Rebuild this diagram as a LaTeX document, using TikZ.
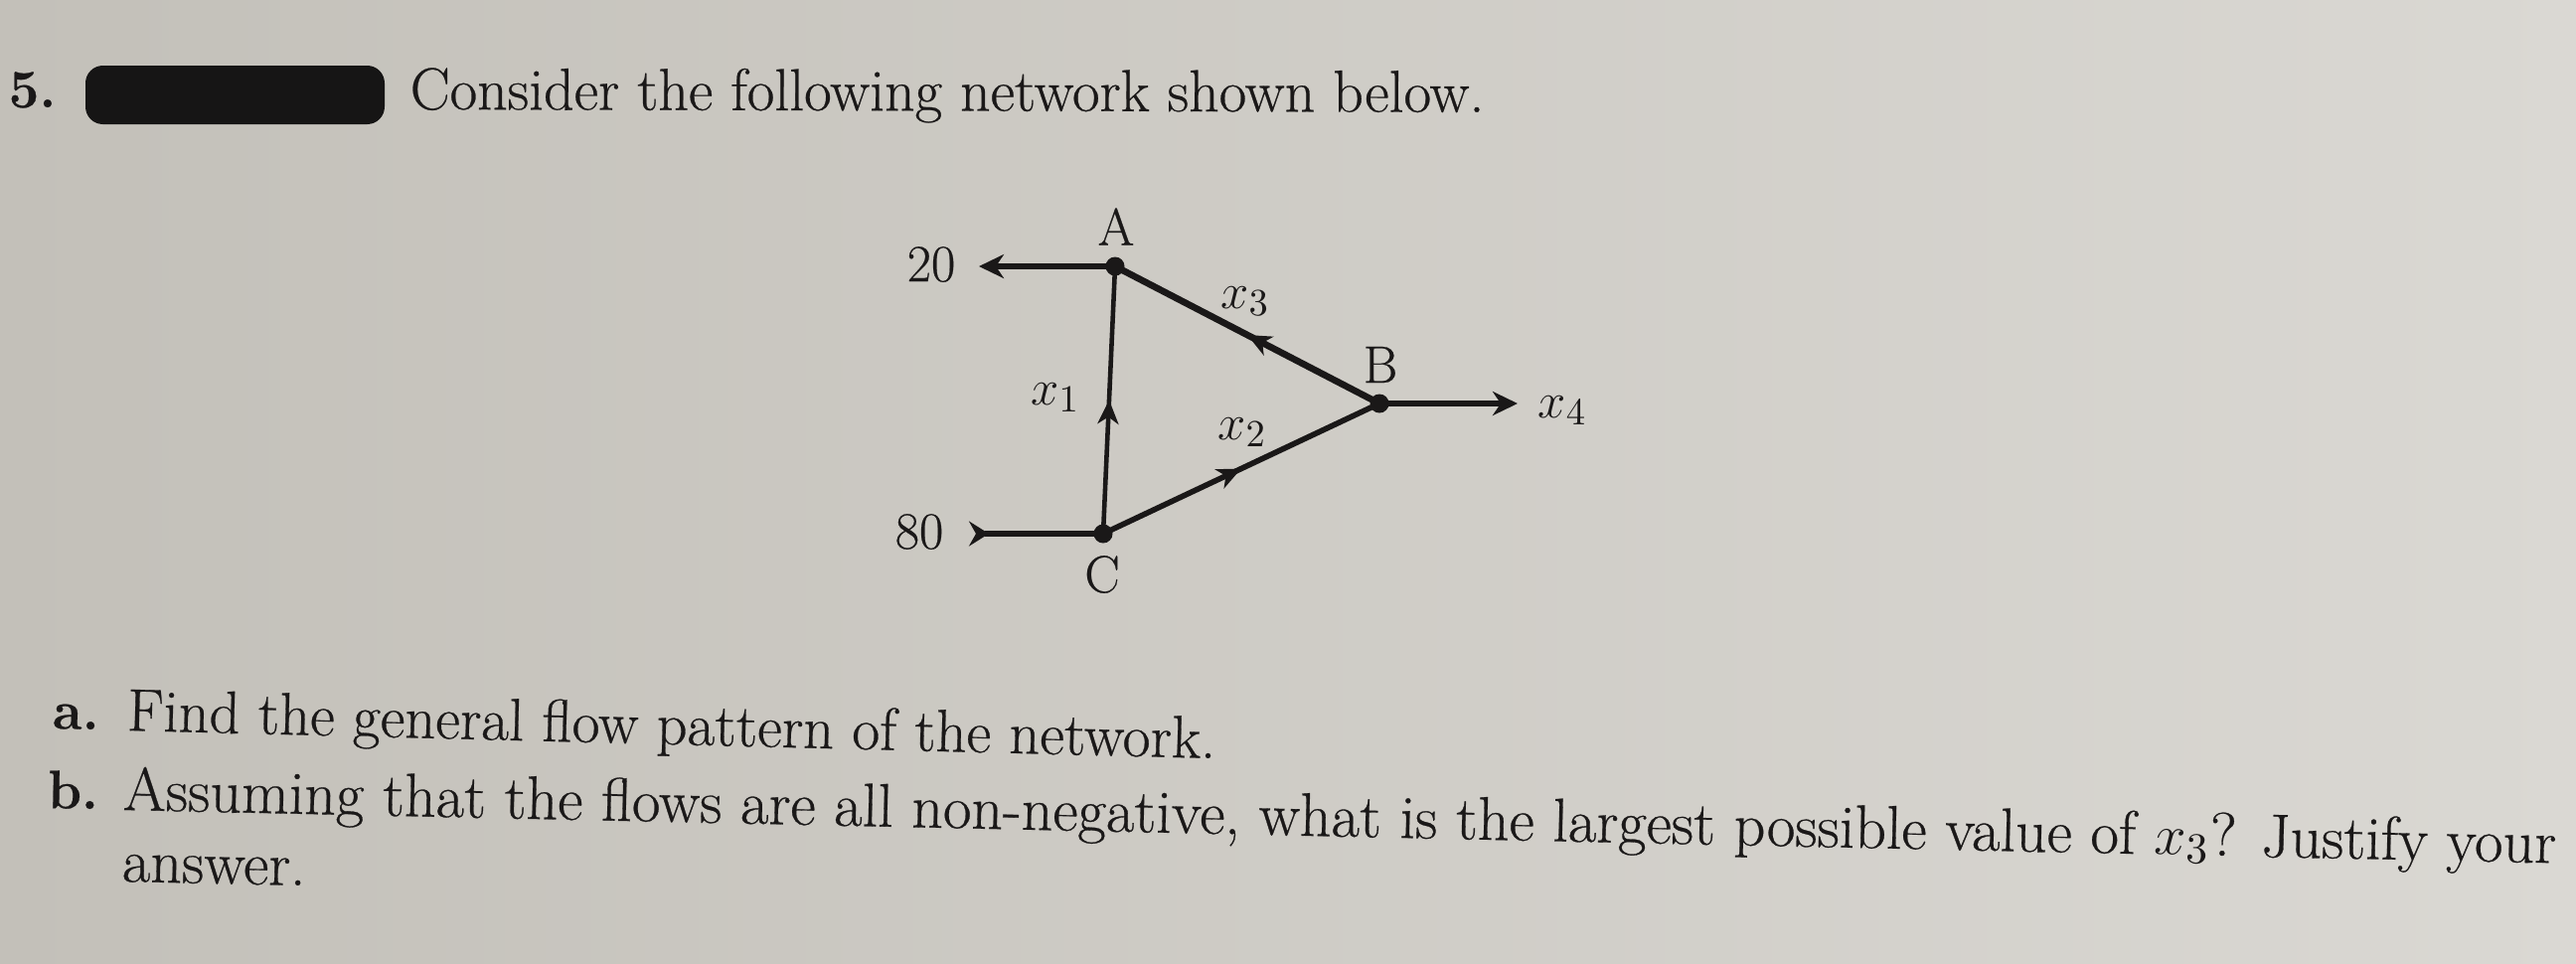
\documentclass[tikz,border=0pt]{standalone}
\usepackage{fontspec}
\setmainfont{Latin Modern Roman}[FakeBold=0.45]
\usetikzlibrary{arrows.meta,decorations.markings}
\definecolor{ink}{HTML}{1A1818}
\definecolor{paperL}{HTML}{C3C0B9}
\definecolor{paperR}{HTML}{DAD8D3}
\definecolor{blobc}{HTML}{161515}
\tikzset{
  edge/.style={draw=ink, line width=1.6pt},
  dot/.style={circle, fill=ink, inner sep=0pt, minimum size=0.19cm},
  lbl/.style={text=ink, inner sep=0pt, font=\fontsize{15}{18}\selectfont},
  txt/.style={text=ink, inner sep=0pt, font=\fontsize{15.5}{18}\selectfont},
  bfl/.style={text=ink, inner sep=0pt, font=\bfseries\fontsize{15.5}{18}\selectfont},
  midarrow/.style={postaction={decorate, decoration={markings,
      mark=at position #1 with {\arrow{Stealth[length=0.24cm,width=0.21cm,inset=0.07cm]}}}}}
}
\newsavebox\measbox
\newdimen\measw
\begin{document}
\sbox\measbox{\fontsize{15.5}{18}\selectfont Assuming that the flows are all non-negative, what is the largest possible value of $x_3$? Justify your}%
\measw=\wd\measbox
\pgfmathsetmacro\sB{696.3/\measw}%
\begin{tikzpicture}[x=0.01cm,y=-0.01cm]
\useasboundingbox (0,0) rectangle (2592,969);
\shade[left color=paperL,right color=paperR] (0,0) rectangle (2592,969);

% header
\node[bfl, anchor=base west] (q5) at (8,108) {5.};
\fill[blobc, rounded corners=5pt] (86,66) rectangle (387,125);
\node[txt, anchor=base west, rotate=-0.15] (head) at (412,110)
  {\resizebox{10.8cm}{!}{Consider the following network shown below.}};

% network
\node[dot] (A) at (1122,268) {};
\node[dot] (B) at (1388,406) {};
\node[dot] (C) at (1110,537) {};
\coordinate (out20) at (985,268);
\coordinate (in80) at (975,537);
\coordinate (out4) at (1527,406);

\draw[edge, -{Stealth[length=0.25cm,width=0.24cm,inset=0.08cm]}] (A.center) -- (out20);
\draw[edge, {Stealth[reversed,length=0.2cm,width=0.25cm,inset=0.07cm]}-] (in80) -- (C.center);
\draw[edge, -{Stealth[length=0.25cm,width=0.24cm,inset=0.08cm]}] (B.center) -- (out4);
\draw[edge, line width=1.3pt, midarrow=0.5] (C.center) -- (A.center);
\draw[edge, midarrow=0.5] (C.center) -- (B.center);
\draw[edge, line width=1.9pt, midarrow=0.5] (B.center) -- (A.center);

\node[lbl] (lA) at (1123,228) {A};
\node[lbl] (lB) at (1389,367) {B};
\node[lbl] (lC) at (1109,578) {C};
\node[lbl] (n20) at (937,266) {20};
\node[lbl] (n80) at (925,535) {80};
\node[lbl, anchor=base west] (x4) at (1547,420) {$x_4$};
\node[lbl] (lx1) at (1062,400) {$x_1$};
\node[lbl] (lx2) at (1250,435) {$x_2$};
\node[lbl] (lx3) at (1253,303) {$x_3$};

% questions
\node[bfl, anchor=base west, rotate=-1.47] (la) at (52,733) {a.};
\node[txt, anchor=base west, rotate=-1.47] (ta) at (127,735)
  {\resizebox{10.95cm}{!}{Find the general flow pattern of the network.}};
\node[bfl, anchor=base west, rotate=-1.25] (lb) at (47,813) {b.};
\node[txt, anchor=base west, rotate=-1.25] (tb) at (123,815)
  {\resizebox{24.47cm}{!}{Assuming that the flows are all non-negative, what is the largest possible value of $x_3$? Justify your}};
\node[txt, anchor=base west, rotate=-1.25] (tb2) at (122,887)
  {\scalebox{\sB}{answer.}};
\end{tikzpicture}
\end{document}
